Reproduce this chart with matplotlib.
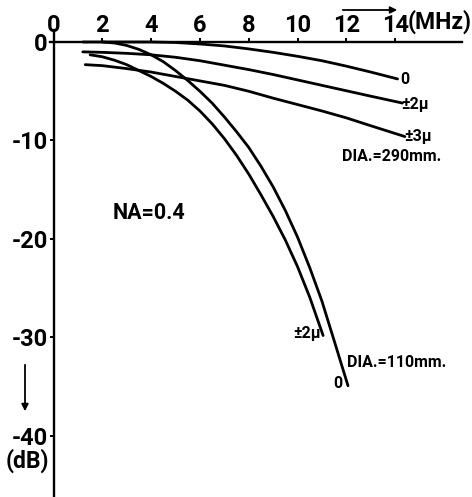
import matplotlib
matplotlib.use("Agg")
import matplotlib.pyplot as plt

plt.rcParams['font.family'] = ['Roboto', 'DejaVu Sans']
plt.rcParams['font.weight'] = 'bold'

# ---- data ----
x_ticks = [0, 2, 4, 6, 8, 10, 12, 14]
x_tick_labels = ['0', '2', '4', '6', '8', '10', '12', '14']
y_ticks = [0, -10, -20, -30, -40]
y_tick_labels = ['0', '-10', '-20', '-30', '-40']

# DIA = 290 mm
f290_0 = [1.2, 4.0, 5.0, 6.0, 7.0, 8.0, 9.0, 10.0, 11.0, 12.0, 13.0, 14.1]
a290_0 = [0.0, 0.0, -0.05, -0.2, -0.4, -0.7, -1.05, -1.45, -1.9, -2.45, -3.05, -3.75]
f290_2 = [1.2, 2.0, 3.0, 4.0, 5.0, 6.0, 7.0, 8.0, 9.0, 10.0, 11.0, 12.0, 13.0, 14.3]
a290_2 = [-1.0, -1.05, -1.15, -1.3, -1.55, -1.9, -2.35, -2.8, -3.3, -3.85, -4.4, -4.95, -5.5, -6.2]
f290_3 = [1.3, 2.0, 3.0, 4.0, 5.0, 6.0, 7.0, 8.0, 9.0, 10.0, 11.0, 12.0, 13.0, 14.4]
a290_3 = [-2.3, -2.4, -2.7, -3.05, -3.5, -3.95, -4.4, -5.0, -5.7, -6.35, -7.0, -7.7, -8.5, -9.6]

# DIA = 110 mm
f110_0 = [2.0, 2.5, 3.0, 3.5, 4.0, 4.5, 5.0, 5.5, 6.0, 6.5, 7.0, 7.5, 8.0, 8.5,
          9.0, 9.5, 10.0, 10.5, 11.0, 11.5, 12.07]
a110_0 = [0.0, -0.1, -0.35, -0.75, -1.3, -2.0, -2.9, -3.9, -5.0, -6.2, -7.6, -9.1,
          -10.7, -12.6, -14.7, -17.1, -19.8, -22.9, -26.3, -30.3, -34.9]
f110_2 = [1.5, 2.0, 2.5, 3.0, 3.5, 4.0, 4.5, 5.0, 5.5, 6.0, 6.5, 7.0, 7.5, 8.0,
          8.5, 9.0, 9.5, 10.0, 10.5, 11.05]
a110_2 = [-1.3, -1.5, -1.85, -2.3, -2.9, -3.5, -4.2, -5.0, -5.9, -7.0, -8.3, -9.8,
          -11.5, -13.4, -15.5, -17.7, -20.1, -22.8, -25.9, -29.8]

# ---- figure ----
W, H = 472, 497
fig = plt.figure(figsize=(W / 100, H / 100), dpi=100)
ax = fig.add_axes([0, 0, 1, 1])

x0px, xs = 53.5, 24.4
y0px, ys = 42.0, 9.85
ax.set_xlim(-x0px / xs, (W - x0px) / xs)
ax.set_ylim(-(H - y0px) / ys, y0px / ys)

def P(px, py):
    return (px - x0px) / xs, -(py - y0px) / ys

lw = 2.0
for f, a in [(f290_0, a290_0), (f290_2, a290_2), (f290_3, a290_3),
             (f110_0, a110_0), (f110_2, a110_2)]:
    ax.plot(f, a, color='black', lw=lw, solid_capstyle='round',
            solid_joinstyle='round')

# axes styling
for s in ['right', 'bottom']:
    ax.spines[s].set_visible(False)
ax.spines['left'].set_position(('data', 0))
ax.spines['top'].set_position(('data', 0))
ax.spines['left'].set_linewidth(1.7)
ax.spines['top'].set_linewidth(1.7)
ax.spines['left'].set_bounds(-(H - y0px) / ys, P(0, 30)[1])
ax.spines['top'].set_bounds(P(50, 0)[0], P(462, 0)[0])

ax.xaxis.set_ticks_position('top')
ax.set_xticks(x_ticks)
ax.set_xticklabels(x_tick_labels)
ax.yaxis.set_ticks_position('left')
ax.set_yticks(y_ticks)
ax.set_yticklabels(y_tick_labels)
ax.tick_params(axis='x', direction='out', length=3, width=1.4, pad=0.5,
               labelsize=17)
ax.tick_params(axis='y', direction='out', length=3, width=1.4, pad=1,
               labelsize=17)
for t in ax.get_xticklabels() + ax.get_yticklabels():
    t.set_fontweight('bold')

tk = dict(fontsize=16.5, fontweight='bold', color='black')
ax.text(*P(408, 22), '(MHz)', ha='left', va='center', **tk)
ax.text(*P(27, 461), '(dB)', ha='center', va='center', **tk)

# arrows
ax.annotate('', xy=P(400, 10), xytext=P(340, 10),
            arrowprops=dict(arrowstyle='-|>', color='black', lw=1.3,
                            mutation_scale=10))
ax.annotate('', xy=P(25, 414), xytext=P(25, 362),
            arrowprops=dict(arrowstyle='-|>', color='black', lw=1.3,
                            mutation_scale=10))

lk = dict(fontsize=11.5, fontweight='bold', color='black')
ax.text(*P(113, 213), 'NA=0.4', ha='left', va='center', fontsize=15.5,
        fontweight='bold')
ax.text(*P(400, 80), '0', ha='left', va='center', **lk)
ax.text(*P(401, 105), '±2μ', ha='left', va='center', **lk)
ax.text(*P(404, 137), '±3μ', ha='left', va='center', **lk)
ax.text(*P(342, 157), 'DIA.=290mm.', ha='left', va='center', **lk)
ax.text(*P(347, 363), 'DIA.=110mm.', ha='left', va='center', **lk)
ax.text(*P(321, 334), '±2μ', ha='right', va='center', **lk)
ax.text(*P(338, 384), '0', ha='center', va='center', **lk)

fig.savefig('out.png', dpi=100)
